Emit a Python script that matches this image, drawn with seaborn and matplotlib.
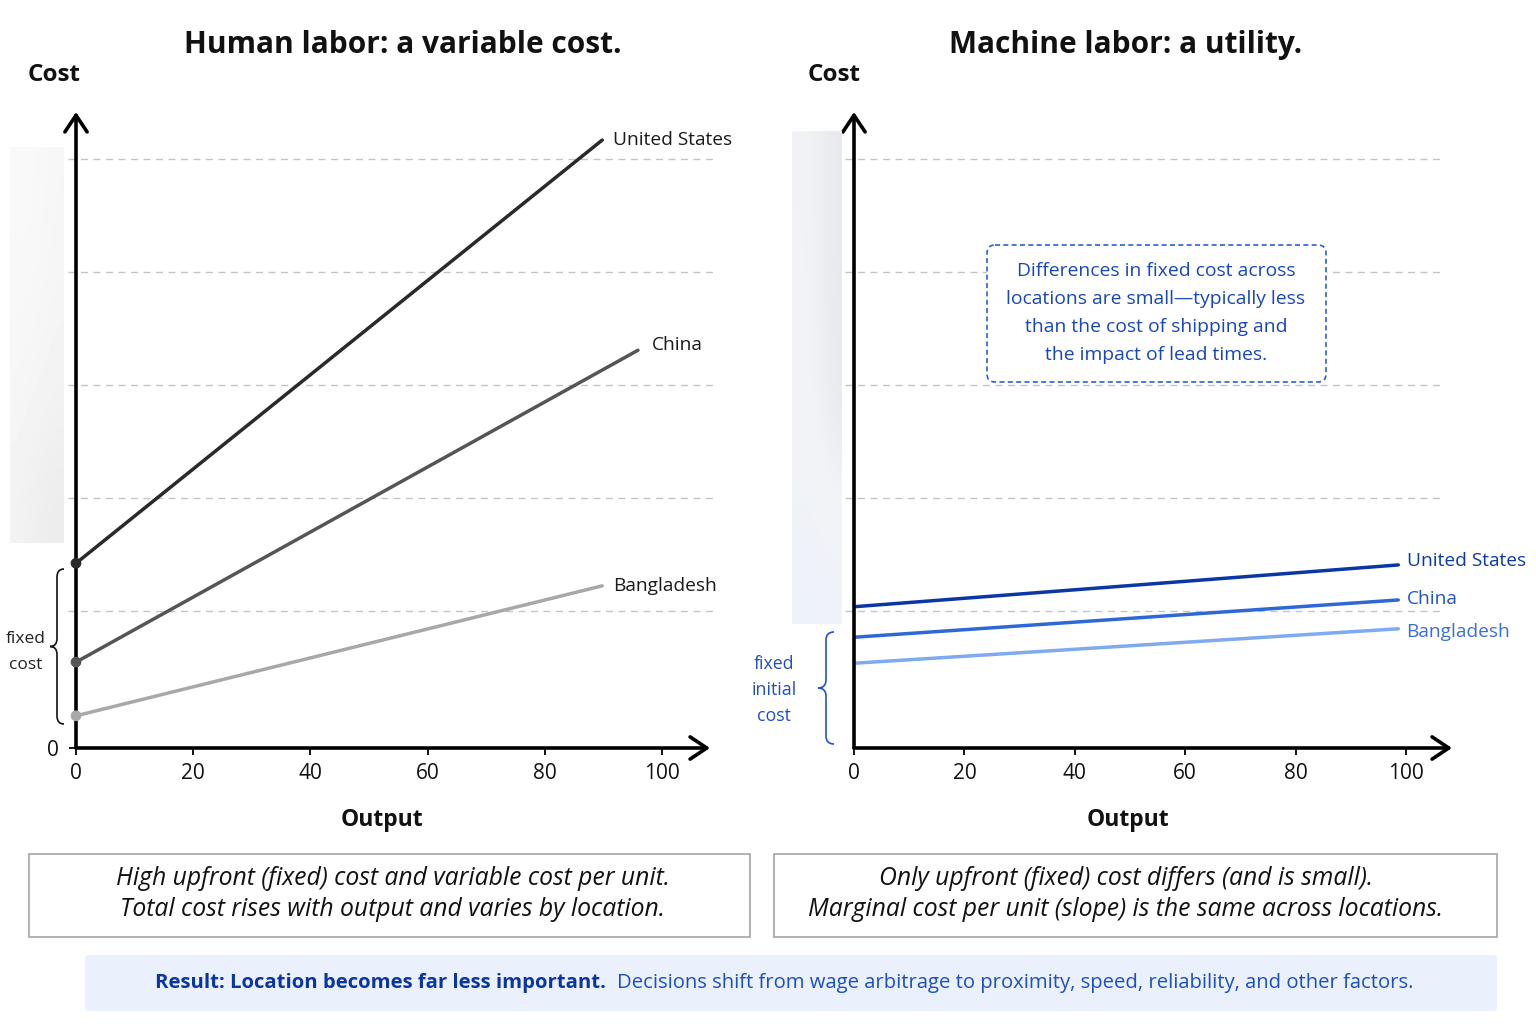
import matplotlib.pyplot as plt
import pandas as pd
import seaborn as sns
import numpy as np
from matplotlib.colors import LinearSegmentedColormap
from matplotlib.patches import Rectangle, FancyBboxPatch, PathPatch
from matplotlib.path import Path

# data (cost in arbitrary units, output 0-100)
locations = ['United States', 'China', 'Bangladesh']

human_start = [32.7, 15.2, 5.7]
human_end_x = [89.8, 95.9, 89.8]
human_end = [107.6, 70.4, 28.7]

machine_start = [25.0, 19.6, 15.0]
machine_end_x = [98.6, 98.6, 98.6]
machine_end = [32.4, 26.2, 21.1]

x_ticks = [0, 20, 40, 60, 80, 100]
grid_levels = [24.2, 44.2, 64.2, 84.2, 104.2]

human_colors = ['#2a2a2a', '#555555', '#a8a8a8']
machine_colors = ['#0b36a6', '#2e68d6', '#7eaaf0']
machine_label_colors = ['#0b3aa8', '#1f55c8', '#3a6fd8']


def make_df(start, end_x, end):
    rows = []
    for loc, s, ex, e in zip(locations, start, end_x, end):
        rows.append({'location': loc, 'output': 0, 'cost': s})
        rows.append({'location': loc, 'output': ex, 'cost': e})
    return pd.DataFrame(rows)


df_human = make_df(human_start, human_end_x, human_end)
df_machine = make_df(machine_start, machine_end_x, machine_end)

sns.set_theme(style='white')
plt.rcParams['font.family'] = ['Open Sans', 'DejaVu Sans']

W, H = 1536, 1024
fig = plt.figure(figsize=(15.36, 10.24), dpi=100)

# overlay in pixel coordinates for the annotations
over = fig.add_axes([0, 0, 1, 1])
over.set_xlim(0, W)
over.set_ylim(H, 0)
over.axis('off')
over.patch.set_visible(False)
over.set_zorder(10)


def px_axes(x0, x1, y_top, y_bot):
    return fig.add_axes([x0 / W, 1 - y_bot / H, (x1 - x0) / W, (y_bot - y_top) / H])


def style_axes(ax, show_zero):
    ax.patch.set_visible(False)
    for s in ax.spines.values():
        s.set_visible(False)
    ax.set_xticks(x_ticks)
    ax.tick_params(axis='x', bottom=True, length=5, width=1.3, color='black',
                   pad=6, labelsize=15, labelcolor='#111111')
    if show_zero:
        ax.set_yticks([0])
        ax.tick_params(axis='y', left=True, length=5, width=1.3, color='black',
                       pad=7, labelsize=15, labelcolor='#111111')
    else:
        ax.set_yticks([])
    ax.set_xlabel('')
    ax.set_ylabel('')
    arrow = dict(arrowstyle='->,head_length=0.6,head_width=0.4', lw=2.6,
                 color='black', shrinkA=0, shrinkB=0, mutation_scale=20)
    ax.annotate('', xy=(1, 0), xytext=(0, 0), xycoords='axes fraction',
                arrowprops=arrow, annotation_clip=False)
    ax.annotate('', xy=(0, 1), xytext=(0, 0), xycoords='axes fraction',
                arrowprops=arrow, annotation_clip=False)


ymax = (748 - 112) / 5.65

# ---- left: human labor
ax1 = px_axes(76, 710, 112, 748)
ax1.set_xlim(0, (710 - 76) / 5.86)
ax1.set_ylim(0, ymax)
ax1.hlines(grid_levels, (68 - 76) / 5.86, (716 - 76) / 5.86, colors='#c4c4c4',
           linestyles=(0, (5, 4)), lw=1, clip_on=False, zorder=0)
sns.lineplot(data=df_human, x='output', y='cost', hue='location', hue_order=locations,
             palette=human_colors, linewidth=2.5, legend=False, ax=ax1)
ax1.scatter([0] * 3, human_start, s=45, c=human_colors, zorder=5, clip_on=False)
style_axes(ax1, True)
label_offsets = [(8, 0), (10, 4), (8, 0)]
for loc, ex, ey, off in zip(locations, human_end_x, human_end, label_offsets):
    ax1.annotate(loc, (ex, ey), xytext=off, textcoords='offset points',
                 ha='left', va='center', fontsize=13.8, color='#1a1a1a')

# ---- right: machine labor
ax2 = px_axes(854, 1452, 112, 748)
ax2.set_xlim(0, (1452 - 854) / 5.52)
ax2.set_ylim(0, ymax)
ax2.hlines(grid_levels, (845 - 854) / 5.52, (1440 - 854) / 5.52, colors='#c4c4c4',
           linestyles=(0, (5, 4)), lw=1, clip_on=False, zorder=0)
sns.lineplot(data=df_machine, x='output', y='cost', hue='location', hue_order=locations,
             palette=machine_colors, linewidth=2.5, legend=False, ax=ax2)
style_axes(ax2, False)
label_offsets = [(6, 3), (6, 1), (6, -2)]
for loc, ex, ey, off, c in zip(locations, machine_end_x, machine_end, label_offsets,
                               machine_label_colors):
    ax2.annotate(loc, (ex, ey), xytext=off, textcoords='offset points',
                 ha='left', va='center', fontsize=13.8, color=c)

# ---- faint blurred strips left of the axes
strip = np.array([[0.975, 0.975, 0.97, 0.965],
                  [0.97, 0.97, 0.965, 0.96],
                  [0.965, 0.96, 0.955, 0.95],
                  [0.95, 0.94, 0.93, 0.925]])
over.imshow(strip, cmap='gray', vmin=0, vmax=1, extent=(10, 64, 543, 147),
            interpolation='bicubic', aspect='auto', zorder=0)
pale = LinearSegmentedColormap.from_list('pale', ['#e6e7ec', '#f3f4f7', '#eef2fa'])
strip2 = np.array([[0.45, 0.45, 0.3, 0.1],
                   [0.5, 0.45, 0.3, 0.1],
                   [0.55, 0.5, 0.35, 0.15],
                   [0.95, 0.95, 0.9, 0.85]])
over.imshow(strip2, cmap=pale, vmin=0, vmax=1, extent=(792, 842, 624, 131),
            interpolation='bicubic', aspect='auto', zorder=0)
over.set_xlim(0, W)
over.set_ylim(H, 0)


def brace(xe, xs, xt, y0, y1, color, r=8):
    ym = (y0 + y1) / 2
    verts = [(xe, y0), (xs, y0), (xs, y0 + r),
             (xs, ym - r), (xs, ym), (xt, ym),
             (xs, ym), (xs, ym + r),
             (xs, y1 - r), (xs, y1), (xe, y1)]
    codes = [Path.MOVETO, Path.CURVE3, Path.CURVE3,
             Path.LINETO, Path.CURVE3, Path.CURVE3,
             Path.CURVE3, Path.CURVE3,
             Path.LINETO, Path.CURVE3, Path.CURVE3]
    over.add_patch(PathPatch(Path(verts, codes), fc='none', ec=color, lw=1.2))


brace(64, 57, 50, 569, 724, '#111111')
brace(834, 826, 818, 632, 744, '#1f55c8')

over.text(26, 652, 'fixed\ncost', ha='center', va='center', fontsize=12.5,
          color='#222222', linespacing=1.85)
over.text(774, 690, 'fixed\ninitial\ncost', ha='center', va='center', fontsize=12.8,
          color='#1f4fc4', linespacing=1.6)

# titles and axis names
over.text(403, 45, 'Human labor: a variable cost.', ha='center', va='center',
          fontsize=21.5, fontweight='bold', color='#111111')
over.text(1126, 45, 'Machine labor: a utility.', ha='center', va='center',
          fontsize=21.5, fontweight='bold', color='#111111')
for x in (28, 808):
    over.text(x, 75, 'Cost', ha='left', va='center', fontsize=17.5,
              fontweight='bold', color='#111111')
for x in (382, 1128):
    over.text(x, 820, 'Output', ha='center', va='center', fontsize=16.5,
              fontweight='bold', color='#111111')

# dashed note box
over.add_patch(FancyBboxPatch((987, 245), 339, 137,
                              boxstyle='round,pad=0,rounding_size=8',
                              fc='white', ec='#2a62d0', lw=1.2, ls=(0, (3, 2))))
over.text(1156, 313, 'Differences in fixed cost across\nlocations are small\u2014typically less\n'
          'than the cost of shipping and\nthe impact of lead times.',
          ha='center', va='center', fontsize=13.9, color='#1847b8', linespacing=1.7)

# caption boxes
over.add_patch(Rectangle((29, 854), 721, 83, fc='white', ec='#a6a6a6', lw=1.2))
over.add_patch(Rectangle((774, 854), 723, 83, fc='white', ec='#a6a6a6', lw=1.2))
over.text(393, 894, 'High upfront (fixed) cost and variable cost per unit.\n'
          'Total cost rises with output and varies by location.',
          ha='center', va='center', fontsize=17.8, style='italic',
          color='#111111', linespacing=1.3)
over.text(1126, 894, 'Only upfront (fixed) cost differs (and is small).\n'
          'Marginal cost per unit (slope) is the same across locations.',
          ha='center', va='center', fontsize=17.8, style='italic',
          color='#111111', linespacing=1.3)

# result banner
over.add_patch(FancyBboxPatch((85, 955), 1412, 56,
                              boxstyle='round,pad=0,rounding_size=4',
                              fc='#eaf1fc', ec='none'))
t1 = over.text(155, 983, 'Result: Location becomes far less important.', ha='left',
               va='center', fontsize=14.6, fontweight='bold', color='#0b36a0')
over.annotate('Decisions shift from wage arbitrage to proximity, speed, reliability, '
              'and other factors.', xy=(1, 0.5), xycoords=t1, xytext=(8, 0),
              textcoords='offset points', ha='left', va='center', fontsize=14.6,
              color='#1c4fbf')

fig.savefig('out.png', dpi=100, facecolor='white')
